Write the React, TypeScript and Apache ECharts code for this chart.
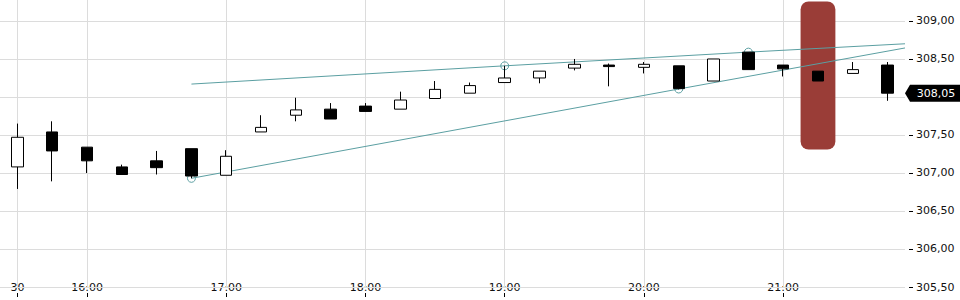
import React, { useEffect, useRef } from "react";
import * as echarts from "echarts";

const TIMES = [
  "15:30", "15:45", "16:00", "16:15", "16:30", "16:45", "17:00", "17:15", "17:30", "17:45",
  "18:00", "18:15", "18:30", "18:45", "19:00", "19:15", "19:30", "19:45", "20:00", "20:15",
  "20:30", "20:45", "21:00", "21:15", "21:30", "21:45",
];
const OPEN = [
  307.08, 307.54, 307.34, 307.08, 307.16, 307.32, 306.97, 307.54, 307.76, 307.84,
  307.88, 307.84, 307.98, 308.05, 308.19, 308.25, 308.38, 308.42, 308.39, 308.41,
  308.21, 308.59, 308.42, 308.34, 308.31, 308.42,
];
const CLOSE = [
  307.47, 307.29, 307.16, 306.98, 307.07, 306.96, 307.22, 307.6, 307.83, 307.71,
  307.81, 307.96, 308.1, 308.15, 308.25, 308.34, 308.43, 308.4, 308.43, 308.11,
  308.5, 308.36, 308.37, 308.21, 308.36, 308.05,
];
const LOW = [
  306.79, 306.89, 307.0, 306.98, 306.98, 306.93, 306.97, 307.54, 307.68, 307.71,
  307.81, 307.84, 307.98, 308.05, 308.19, 308.18, 308.35, 308.14, 308.31, 308.1,
  308.21, 308.36, 308.27, 308.21, 308.31, 307.95,
];
const HIGH = [
  307.65, 307.68, 307.34, 307.11, 307.29, 307.32, 307.3, 307.76, 307.99, 307.92,
  307.92, 308.07, 308.21, 308.19, 308.41, 308.34, 308.5, 308.44, 308.46, 308.41,
  308.5, 308.59, 308.42, 308.34, 308.46, 308.46,
];

// x labels shown on the time axis
const TICK_TIMES = ["15:30", "16:00", "17:00", "18:00", "19:00", "20:00", "21:00"];
const TICK_LABELS = ["30", "16:00", "17:00", "18:00", "19:00", "20:00", "21:00"];
// price axis ticks (308,00 is hidden behind the last-price marker)
const PRICE_TICKS = [305.5, 306.0, 306.5, 307.0, 307.5, 308.0, 308.5, 309.0];
const PRICE_LABELS = [305.5, 306.0, 306.5, 307.0, 307.5, 308.5, 309.0];
const Y_MIN = 305.5;
const Y_MAX = 309.276;

// trend lines: [candle index, price]; pivots are circled
const UPPER_LINE = [[5, 308.17], [14, 308.41], [21, 308.59], [25.5, 308.7]];
const UPPER_PIVOTS = [false, true, true, false];
const LOWER_LINE = [[5, 306.93], [19, 308.105], [25.5, 308.645]];
const LOWER_PIVOTS = [true, true, false];

// highlighted candle band: [time, top, bottom]
const HIGHLIGHT = [["21:15", 309.257, 307.309]];
const LAST_PRICE = 308.05;

const FONT = "DejaVu Sans";
const GRID_COLOR = "#dcdcdc";
const TEAL = "#5b9fa2";

const fmt = (v: number) => v.toFixed(2).replace(".", ",");

export default function App() {
  const ref = useRef<HTMLDivElement>(null);
  useEffect(() => {
    if (!ref.current) return;
    const chart = echarts.init(ref.current, undefined, { renderer: "svg" });
    const candles = TIMES.map((_, i) => [OPEN[i], CLOSE[i], LOW[i], HIGH[i]]);
    const tickIdx = new Set(TICK_TIMES.map((t) => TIMES.indexOf(t)));
    const mkLine = (pts: number[][], piv: boolean[]) =>
      pts.map((p, i) => ({
        value: p,
        symbol: piv[i] ? "circle" : "none",
      }));

    chart.setOption({
      animation: false,
      grid: { left: 0, right: 55, top: 0, bottom: 13, containLabel: false },
      xAxis: [
        {
          type: "category",
          data: TIMES,
          boundaryGap: true,
          offset: 6,
          axisLine: { show: true, onZero: false, lineStyle: { color: "#000", opacity: 0 } },
          axisTick: {
            show: true,
            alignWithLabel: true,
            length: 4,
            interval: (i: number) => tickIdx.has(i),
            lineStyle: { color: "#000", width: 1, opacity: 1 },
          },
          axisLabel: {
            inside: true,
            margin: 0,
            interval: (i: number) => tickIdx.has(i),
            formatter: (v: string) => {
              const k = TICK_TIMES.indexOf(v);
              return k >= 0 ? TICK_LABELS[k] : "";
            },
            color: "#111",
            fontFamily: FONT,
            fontSize: 11,
          },
          splitLine: { show: false },
        },
        {
          type: "value",
          min: -0.5,
          max: TIMES.length - 0.5,
          show: false,
        },
      ],
      yAxis: {
        type: "value",
        position: "right",
        min: Y_MIN,
        max: Y_MAX,
        interval: 0.5,
        offset: 4,
        axisLine: { show: true, onZero: false, lineStyle: { color: "#000", opacity: 0 } },
        axisTick: {
          show: true,
          length: 4,
          customValues: PRICE_TICKS,
          lineStyle: { color: "#000", width: 1, opacity: 1 },
        },
        axisLabel: {
          margin: 7,
          customValues: PRICE_LABELS,
          formatter: (v: number) => fmt(v),
          color: "#111",
          fontFamily: FONT,
          fontSize: 11,
        },
        splitLine: { show: false },
      },
      series: [
        {
          type: "custom",
          z: 2,
          xAxisIndex: 0,
          data: HIGHLIGHT,
          encode: { x: 0, y: [1, 2] },
          renderItem: (params: any, api: any) => {
            const top = api.coord([api.value(0), api.value(1)]);
            const bot = api.coord([api.value(0), api.value(2)]);
            const w = api.size([1, 0])[0];
            return {
              type: "rect",
              shape: { x: top[0] - w / 2, y: top[1], width: w, height: bot[1] - top[1], r: 8 },
              style: { fill: "#9a3d37" },
            };
          },
        },
        {
          type: "line",
          z: 3,
          xAxisIndex: 1,
          data: mkLine(UPPER_LINE, UPPER_PIVOTS),
          symbolSize: 8,
          showSymbol: true,
          lineStyle: { color: TEAL, width: 1 },
          itemStyle: { color: "rgba(0,0,0,0)", borderColor: TEAL, borderWidth: 1 },
          silent: true,
        },
        {
          type: "line",
          z: 3,
          xAxisIndex: 1,
          data: mkLine(LOWER_LINE, LOWER_PIVOTS),
          symbolSize: 8,
          showSymbol: true,
          lineStyle: { color: TEAL, width: 1 },
          itemStyle: { color: "rgba(0,0,0,0)", borderColor: TEAL, borderWidth: 1 },
          silent: true,
          markPoint: {
            z: 10,
            silent: true,
            data: [
              {
                coord: [TIMES.length - 0.5, LAST_PRICE],
                symbol: "path://M0,8.5L5,0L56,0L56,17L5,17Z",
                symbolSize: [56, 17],
                symbolKeepAspect: false,
                symbolOffset: [28, 0],
                itemStyle: { color: "#000" },
                label: {
                  show: true,
                  position: "inside",
                  offset: [3, 0],
                  formatter: fmt(LAST_PRICE),
                  color: "#fff",
                  fontFamily: FONT,
                  fontSize: 11,
                },
              },
            ],
          },
        },
        {
          type: "candlestick",
          z: 4,
          xAxisIndex: 0,
          data: candles,
          barWidth: 12,
          itemStyle: {
            color: "#ffffff",
            color0: "#000000",
            borderColor: "#000000",
            borderColor0: "#000000",
            borderWidth: 1,
          },
          markLine: {
            z: 1,
            silent: true,
            symbol: ["none", "none"],
            label: { show: false },
            lineStyle: { color: GRID_COLOR, width: 1, type: "solid" },
            data: [
              ...PRICE_TICKS.map((v) => ({ yAxis: v })),
              ...TICK_TIMES.map((t) => ({ xAxis: t })),
            ],
          },
        },
      ],
    });
    return () => chart.dispose();
  }, []);
  return (
    <div
      ref={ref}
      style={{ position: "fixed", left: 0, top: 0, width: 960, height: 300, background: "#fff" }}
    />
  );
}
